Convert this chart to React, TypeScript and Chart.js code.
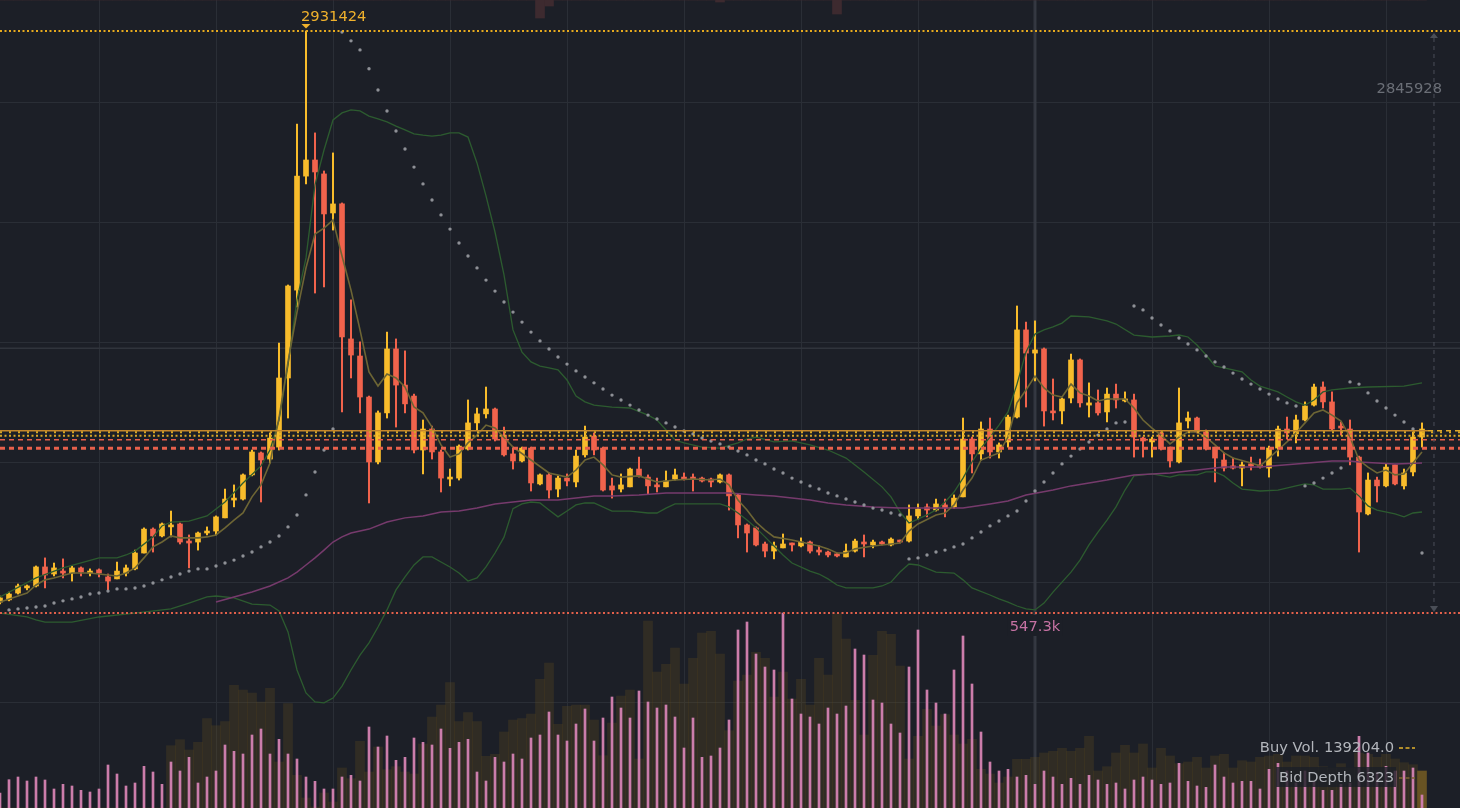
import React, { useEffect, useRef } from 'react';
import { Chart, registerables } from 'chart.js';

Chart.register(...registerables);

// ---------- price data (thousands) ----------
const openK = [
  592, 601, 629, 650, 658, 736, 707, 719, 711, 732,
  711, 724, 695, 687, 711, 728, 793, 891, 863, 900,
  912, 842, 838, 875, 883, 937, 1010, 1014, 1113, 1203,
  1178, 1227, 1510, 1870, 2337, 2403, 2346, 2186, 2223, 1670,
  1600, 1432, 1166, 1367, 1629, 1481, 1436, 1215, 1301, 1207,
  1096, 1100, 1219, 1326, 1363, 1383, 1276, 1199, 1170, 1223,
  1076, 1113, 1055, 1100, 1084, 1195, 1272, 1223, 1068, 1055,
  1064, 1137, 1104, 1068, 1064, 1096, 1104, 1104, 1100, 1096,
  1084, 1113, 1031, 908, 896, 830, 801, 814, 834, 822,
  838, 805, 797, 789, 777, 801, 838, 826, 834, 826,
  842, 842, 945, 982, 969, 990, 982, 1023, 1260, 1199,
  1301, 1207, 1248, 1350, 1707, 1612, 1629, 1375, 1375, 1428,
  1584, 1399, 1408, 1371, 1444, 1416, 1420, 1264, 1248, 1285,
  1227, 1166, 1334, 1346, 1289, 1227, 1174, 1150, 1141, 1158,
  1154, 1141, 1223, 1301, 1281, 1338, 1399, 1473, 1412, 1309,
  1301, 1186, 953, 1092, 1068, 1154, 1068, 1125, 1268,
];
const highK = [
  617, 633, 666, 662, 740, 773, 752, 769, 740, 736,
  728, 728, 707, 756, 744, 805, 896, 896, 916, 965,
  916, 867, 879, 900, 945, 1055, 1072, 1117, 1215, 1207,
  1285, 1653, 1891, 2550, 2931.424, 2514, 2358, 2432, 2227, 1830,
  1658, 1436, 1375, 1698, 1670, 1621, 1444, 1338, 1313, 1215,
  1137, 1236, 1420, 1387, 1473, 1387, 1309, 1227, 1227, 1227,
  1117, 1121, 1109, 1117, 1215, 1313, 1285, 1227, 1100, 1117,
  1141, 1186, 1113, 1100, 1129, 1137, 1121, 1117, 1104, 1100,
  1117, 1117, 1035, 912, 900, 838, 838, 871, 834, 855,
  842, 822, 801, 793, 830, 850, 867, 846, 842, 855,
  846, 990, 994, 994, 1014, 1014, 1031, 1346, 1268, 1330,
  1346, 1244, 1358, 1805, 1739, 1744, 1633, 1506, 1428, 1608,
  1588, 1490, 1461, 1469, 1485, 1453, 1444, 1268, 1268, 1289,
  1227, 1469, 1371, 1350, 1297, 1227, 1203, 1182, 1166, 1186,
  1178, 1231, 1313, 1350, 1358, 1412, 1485, 1494, 1453, 1330,
  1338, 1190, 1121, 1104, 1158, 1154, 1137, 1289, 1326,
];
const lowK = [
  584, 597, 625, 642, 654, 650, 699, 691, 678, 699,
  699, 695, 642, 687, 699, 724, 793, 797, 859, 859,
  830, 732, 805, 867, 867, 937, 982, 1010, 1109, 1002,
  1162, 1215, 1346, 1801, 2305, 1858, 1883, 2116, 1371, 1510,
  1367, 998, 1158, 1346, 1309, 1367, 1203, 1117, 1178, 1043,
  1068, 1092, 1215, 1297, 1346, 1252, 1190, 1137, 1166, 1047,
  1072, 1018, 1023, 1068, 1064, 1186, 1195, 1047, 1018, 1043,
  1064, 1104, 1035, 1043, 1064, 1092, 1092, 1047, 1084, 1064,
  1080, 969, 855, 797, 822, 777, 769, 814, 801, 818,
  793, 785, 777, 777, 777, 797, 777, 814, 826, 822,
  834, 838, 932, 941, 965, 941, 977, 1023, 1121, 1174,
  1182, 1182, 1227, 1346, 1391, 1498, 1313, 1338, 1322, 1408,
  1391, 1350, 1358, 1330, 1387, 1412, 1186, 1186, 1186, 1215,
  1145, 1162, 1305, 1285, 1215, 1084, 1129, 1137, 1068, 1133,
  1141, 1104, 1190, 1260, 1244, 1334, 1395, 1387, 1297, 1276,
  1154, 797, 949, 1002, 1064, 1072, 1055, 1109, 1227,
];
const closeK = [
  609, 625, 658, 654, 736, 703, 732, 711, 732, 715,
  719, 711, 678, 719, 732, 793, 891, 863, 912, 904,
  838, 834, 875, 883, 941, 1014, 1014, 1113, 1207, 1174,
  1264, 1510, 1887, 2337, 2403, 2354, 2182, 2223, 1678, 1604,
  1432, 1166, 1367, 1629, 1481, 1404, 1215, 1301, 1207, 1100,
  1104, 1231, 1326, 1363, 1383, 1260, 1195, 1170, 1223, 1080,
  1113, 1051, 1100, 1088, 1190, 1268, 1215, 1051, 1051, 1072,
  1137, 1109, 1068, 1064, 1088, 1113, 1096, 1096, 1088, 1084,
  1113, 1027, 908, 875, 826, 801, 822, 830, 826, 838,
  801, 797, 785, 781, 801, 842, 830, 838, 830, 850,
  838, 945, 973, 969, 994, 977, 1018, 1260, 1199, 1301,
  1207, 1236, 1350, 1707, 1612, 1625, 1375, 1367, 1424, 1584,
  1408, 1408, 1367, 1444, 1420, 1424, 1268, 1252, 1260, 1219,
  1170, 1326, 1346, 1289, 1219, 1182, 1141, 1141, 1154, 1150,
  1145, 1223, 1301, 1285, 1338, 1395, 1473, 1412, 1301, 1305,
  1186, 961, 1092, 1068, 1145, 1076, 1121, 1268, 1301,
];

// ---------- indicators: [candle index, value (thousands)] ----------
const maShort = [
  [0, 592], [3, 629], [4, 662], [5, 683], [6, 691], [8, 711], [10, 711], [12, 703], [13, 699], [14, 711],
  [15, 732], [16, 773], [17, 818], [18, 838], [19, 863], [20, 855], [22, 855], [23, 859], [24, 867], [25, 896],
  [26, 928], [27, 957], [28, 1023], [29, 1072], [30, 1162], [31, 1346], [32, 1576], [33, 1780], [34, 1961], [35, 2100],
  [36, 2124], [37, 2157], [38, 2010], [39, 1870], [40, 1707], [41, 1535], [42, 1477], [43, 1526], [44, 1510], [45, 1473],
  [46, 1391], [47, 1367], [48, 1309], [49, 1236], [50, 1186], [51, 1199], [52, 1244], [53, 1276], [54, 1317], [55, 1305],
  [57, 1227], [59, 1174], [61, 1121], [63, 1104], [64, 1133], [65, 1174], [66, 1186], [67, 1154], [68, 1113], [69, 1104],
  [71, 1109], [73, 1084], [75, 1092], [77, 1096], [79, 1092], [80, 1096], [81, 1072], [82, 1010], [83, 969], [84, 920],
  [85, 887], [86, 859], [88, 846], [89, 838], [91, 822], [92, 810], [93, 793], [94, 793], [95, 810], [97, 822],
  [100, 834], [101, 883], [102, 912], [104, 949], [105, 957], [106, 990], [107, 1051], [108, 1100], [109, 1174], [111, 1203],
  [112, 1268], [113, 1408], [114, 1461], [115, 1518], [116, 1469], [117, 1440], [118, 1432], [119, 1485], [120, 1449], [121, 1436],
  [122, 1416], [123, 1424], [125, 1424], [126, 1387], [127, 1338], [128, 1305], [129, 1276], [130, 1240], [131, 1268], [132, 1289],
  [133, 1289], [134, 1268], [135, 1236], [136, 1203], [137, 1182], [139, 1162], [140, 1150], [141, 1182], [142, 1215], [143, 1248],
  [144, 1285], [145, 1326], [146, 1367], [147, 1379], [148, 1358], [149, 1334], [150, 1268], [151, 1174], [152, 1145], [153, 1121],
  [154, 1133], [155, 1113], [156, 1117], [157, 1162], [158, 1207],
];
const bandUpper = [
  [0, 613], [4, 691], [7, 732], [11, 773], [13, 773], [14, 785], [15, 801], [17, 859], [18, 904], [19, 920],
  [21, 924], [23, 945], [25, 1002], [27, 1080], [29, 1150], [30, 1215], [31, 1338], [32, 1563], [33, 1830], [34, 2002],
  [35, 2301], [36, 2444], [37, 2567], [38, 2596], [39, 2608], [40, 2604], [41, 2583], [42, 2571], [43, 2559], [44, 2542],
  [45, 2526], [46, 2510], [47, 2505], [48, 2501], [49, 2505], [50, 2514], [51, 2514], [52, 2497], [53, 2391], [54, 2256],
  [55, 2108], [56, 1932], [57, 1707], [58, 1616], [59, 1576], [60, 1559], [61, 1551], [62, 1543], [63, 1502], [64, 1436],
  [65, 1412], [66, 1399], [68, 1391], [70, 1387], [72, 1358], [73, 1338], [74, 1297], [75, 1256], [76, 1244], [78, 1227],
  [80, 1223], [82, 1244], [83, 1260], [84, 1268], [86, 1248], [88, 1252], [90, 1236], [92, 1215], [94, 1182], [95, 1154],
  [96, 1125], [98, 1064], [99, 1023], [100, 961], [101, 916], [102, 932], [103, 949], [104, 969], [105, 1002], [106, 1043],
  [107, 1100], [108, 1166], [109, 1223], [110, 1268], [111, 1317], [112, 1371], [113, 1485], [114, 1617], [115, 1690], [116, 1707],
  [117, 1719], [118, 1735], [119, 1764], [121, 1760], [123, 1744], [124, 1731], [126, 1686], [128, 1678], [130, 1682], [131, 1686],
  [132, 1678], [133, 1645], [134, 1604], [135, 1559], [136, 1551], [138, 1535], [139, 1502], [140, 1477], [142, 1453], [143, 1432],
  [144, 1412], [145, 1399], [146, 1420], [147, 1453], [148, 1461], [150, 1469], [152, 1473], [156, 1477], [158, 1490],
];
const bandLower = [
  [0, 547], [3, 531], [4, 519], [5, 510], [8, 510], [11, 531], [15, 547], [19, 564], [21, 588], [23, 613],
  [24, 617], [26, 609], [28, 584], [30, 580], [31, 556], [32, 470], [33, 314], [34, 220], [35, 183], [36, 179],
  [37, 199], [38, 248], [39, 314], [40, 375], [41, 425], [42, 490], [43, 560], [44, 642], [45, 695], [46, 744],
  [47, 777], [48, 777], [49, 756], [50, 736], [51, 711], [52, 678], [53, 691], [54, 736], [55, 793], [56, 858],
  [57, 975], [58, 994], [59, 1002], [60, 998], [61, 969], [62, 941], [63, 965], [64, 990], [65, 998], [66, 998],
  [68, 965], [70, 965], [72, 957], [73, 957], [74, 977], [75, 994], [80, 994], [81, 982], [82, 957], [83, 928],
  [84, 896], [85, 859], [86, 822], [87, 785], [88, 752], [90, 719], [91, 707], [92, 687], [93, 662], [94, 650],
  [97, 650], [98, 658], [99, 674], [100, 715], [101, 748], [102, 744], [104, 715], [106, 711], [107, 683], [108, 650],
  [110, 621], [111, 605], [112, 592], [113, 576], [114, 564], [115, 560], [116, 588], [117, 633], [118, 674], [119, 715],
  [120, 764], [121, 826], [122, 879], [123, 928], [124, 982], [125, 1051], [126, 1109], [128, 1117], [130, 1104], [131, 1113],
  [133, 1113], [134, 1125], [135, 1125], [136, 1109], [137, 1080], [138, 1055], [140, 1047], [142, 1051], [144, 1068], [145, 1076],
  [146, 1072], [147, 1055], [149, 1055], [150, 1059], [151, 1027], [152, 986], [153, 969], [155, 953], [156, 941], [157, 957],
  [158, 961],
];
const maLong = [
  [24, 592], [26, 613], [28, 633], [30, 658], [32, 691], [33, 715], [34, 744], [35, 773], [36, 805], [37, 838],
  [38, 859], [39, 875], [41, 891], [43, 920], [45, 937], [47, 945], [49, 961], [51, 965], [53, 977], [55, 994],
  [57, 1002], [59, 1010], [62, 1010], [64, 1018], [66, 1027], [68, 1027], [71, 1031], [74, 1039], [78, 1039], [81, 1039],
  [84, 1031], [86, 1027], [88, 1018], [90, 1010], [92, 998], [94, 990], [97, 982], [100, 977], [104, 977], [107, 977],
  [110, 994], [112, 1006], [114, 1031], [117, 1051], [119, 1068], [121, 1080], [123, 1092], [126, 1113], [130, 1121], [133, 1133],
  [136, 1145], [140, 1145], [144, 1158], [148, 1170], [150, 1170], [151, 1166], [155, 1158], [158, 1162],
];
const sarK = [
  null, 560, 564, 568, 572, 576, 588, 597, 605, 613,
  625, 629, 637, 646, 646, 650, 658, 670, 683, 695,
  707, 719, 728, 728, 740, 752, 764, 781, 797, 818,
  838, 863, 900, 949, 1031, 1125, 1215, 1301, 2927, 2891,
  2854, 2777, 2690, 2604, 2522, 2448, 2374, 2305, 2239, 2178,
  2120, 2063, 2010, 1961, 1911, 1866, 1821, 1780, 1739, 1698,
  1662, 1629, 1596, 1567, 1539, 1514, 1490, 1465, 1440, 1420,
  1399, 1379, 1358, 1342, 1326, 1309, 1293, 1281, 1264, 1252,
  1240, 1227, 1211, 1195, 1174, 1158, 1137, 1121, 1100, 1084,
  1068, 1055, 1039, 1027, 1014, 1002, 990, 977, 969, 957,
  949, 769, 773, 785, 797, 805, 818, 830, 855, 879,
  904, 924, 945, 965, 1006, 1047, 1084, 1121, 1158, 1190,
  1219, 1248, 1276, 1301, 1326, 1330, 1805, 1789, 1756, 1727,
  1703, 1674, 1649, 1625, 1600, 1576, 1555, 1530, 1506, 1485,
  1465, 1444, 1424, 1408, 1395, 1068, 1080, 1100, 1121, 1141,
  1494, 1485, 1449, 1416, 1387, 1358, 1330, 1301, 793,
];

// ---------- volume (thousands) ----------
const volumeBuyK = [
  0, 0, 0, 0, 0, 0, 0, 0, 0, 0,
  0, 0, 0, 0, 0, 0, 0, 0, 0, 62.3,
  68.3, 58, 65.7, 89.3, 82.3, 86.3, 122.7, 118, 115, 106,
  119.7, 46, 104.3, 32.7, 10, 1, 15, 6, 40, 29.3,
  66.7, 36, 61, 38.3, 41.3, 36, 34, 64, 91, 103,
  125.3, 86.3, 95.3, 86.3, 51.7, 53.7, 76, 88, 89.3, 94,
  128.7, 145, 83.7, 101.7, 103, 103, 88, 52.3, 85, 112,
  118, 49, 187, 136, 143.7, 160, 124, 149.7, 175, 176.7,
  154, 77.3, 127, 133, 155.7, 149.7, 111, 136, 109, 128.7,
  103, 149.7, 133, 194.3, 169, 107.7, 73, 152.7, 176.7, 173.7,
  142, 49, 71.7, 98.7, 82, 93.3, 73, 64, 68.7, 38.7,
  34, 25, 31, 48.7, 48.7, 50.7, 55, 56.7, 59.7, 56.7,
  59.7, 71.7, 37, 41.3, 55, 62.7, 55, 64, 40, 59.7,
  52, 44.3, 46, 50.7, 40, 52, 53.7, 40, 47.3, 46,
  50.7, 52, 53.7, 46, 52, 52, 50.7, 41.3, 40, 44.3,
  40, 55, 53.7, 50.7, 53.7, 49, 45.3, 43.3, 37,
];
const volumeTradeK = [
  15, 28.3, 31, 27, 31, 28, 19, 23.7, 22, 17.7,
  16, 19, 43, 34, 22, 25, 41.7, 36, 23.7, 46,
  37, 50.7, 25, 31, 37, 63, 56.7, 54, 73, 79,
  54, 68.7, 54, 49, 31, 26.7, 19, 19, 31, 32.7,
  27, 81, 61, 72, 47.7, 50.7, 70, 65.7, 63, 79,
  59.7, 65.7, 68.7, 36, 27, 50.7, 46, 54, 49, 70,
  73, 96, 73, 67, 84, 99, 67, 90, 111, 100,
  90, 117, 106, 100, 103, 91, 60, 90, 50.7, 52,
  60, 88, 178, 186, 154, 141, 138, 195, 109, 94,
  91, 84, 100, 94, 102, 159, 153, 108, 105, 84,
  75, 141, 178, 118, 105, 94, 138, 172, 124, 76,
  46, 37, 38.7, 31, 32.7, 23.7, 37, 31, 23.7, 29.7,
  23.7, 32.7, 28, 23.7, 25, 19, 28, 31, 28, 23.7,
  25, 44.7, 26.7, 22, 20.7, 43, 31, 25, 26.7, 26.7,
  19, 38.7, 44.7, 37, 25, 37, 26.7, 17.7, 17.7, 23.7,
  25, 71.7, 55, 35.7, 41.7, 37, 37, 40, 13,
];
const sellSpikes = [
  [60, 18], [61, 6], [80, 2], [93, 14],
];

// ---------- axis / reference values ----------
const rangeHighK = 2931.424;
const rangeLowK = 547.3;
const levelK = [1294.1, 1287.5, 1273.6, 1257.2, 1222.0];
const gridXIdx = [11, 24, 37, 50, 63, 76, 89, 102, 115, 128, 141, 154];
const gridYK = [2639.35, 2147.78, 1656.21, 1164.64, 673.06, 181.49];
const crossIdx = 115;
const crossK = 1631.6;
const measureIdx = 159.33;
const measureText = '2845928';
const buyVolText = 'Buy Vol. 139204.0';
const bidDepthText = 'Bid Depth 6323';

const BG = '#1c1f27';
const UP = '#f8bc2b';
const DOWN = '#f1634c';
const FONT = '"DejaVu Sans", Verdana, sans-serif';

const overlayPlugin = {
  id: 'overlay',
  beforeDatasetsDraw(chart: any) {
    const { ctx, chartArea: a, scales } = chart;
    const xs = scales.x;
    const ys = scales.y;
    ctx.save();
    ctx.strokeStyle = '#2a2e36';
    ctx.lineWidth = 1;
    gridXIdx.forEach((g) => {
      const p = Math.round(xs.getPixelForValue(g)) + 0.5;
      ctx.beginPath(); ctx.moveTo(p, a.top); ctx.lineTo(p, a.bottom); ctx.stroke();
    });
    gridYK.forEach((g) => {
      const p = Math.round(ys.getPixelForValue(g)) + 0.5;
      ctx.beginPath(); ctx.moveTo(a.left, p); ctx.lineTo(a.right, p); ctx.stroke();
    });
    // crosshair
    ctx.strokeStyle = 'rgba(56,60,70,0.8)';
    ctx.lineWidth = 3;
    const cx = xs.getPixelForValue(crossIdx);
    ctx.beginPath(); ctx.moveTo(cx, a.top); ctx.lineTo(cx, a.bottom); ctx.stroke();
    ctx.strokeStyle = '#30343c';
    ctx.lineWidth = 1.5;
    const cy = ys.getPixelForValue(crossK);
    ctx.beginPath(); ctx.moveTo(a.left, cy); ctx.lineTo(a.right, cy); ctx.stroke();
    ctx.restore();
  },
  afterDatasetsDraw(chart: any) {
    const { ctx, chartArea: a, scales } = chart;
    const xs = scales.x;
    const ys = scales.y;
    const lastX = xs.getPixelForValue(openK.length - 1) + 6;
    ctx.save();
    const hline = (v: number, color: string, w: number, dash: number[], x0 = a.left, x1 = a.right) => {
      const p = ys.getPixelForValue(v);
      ctx.strokeStyle = color; ctx.lineWidth = w; ctx.setLineDash(dash);
      ctx.beginPath(); ctx.moveTo(x0, p); ctx.lineTo(x1, p); ctx.stroke();
    };
    // level lines
    hline(levelK[0], '#c4872c', 1.5, [], a.left, lastX);
    hline(levelK[0], '#e0a92a', 1.5, [5, 4], lastX, a.right);
    hline(levelK[1], '#d9a626', 2, [2, 7]);
    hline(levelK[2], '#d9a626', 2, [2, 2.5]);
    hline(levelK[3], '#e8604b', 1.6, [5, 4]);
    hline(levelK[4], '#e8604b', 3, [5, 4]);
    // range lines
    hline(rangeHighK, '#e6aa1e', 2, [2, 2.5]);
    hline(rangeLowK, '#e3604b', 2, [2, 2.5]);
    ctx.setLineDash([]);

    // measure line
    const mx = xs.getPixelForValue(measureIdx);
    const mTop = ys.getPixelForValue(rangeHighK) + 2;
    const mBot = ys.getPixelForValue(rangeLowK) - 1;
    ctx.strokeStyle = '#4a4e57';
    ctx.fillStyle = '#4a4e57';
    ctx.lineWidth = 1;
    ctx.setLineDash([4, 4]);
    ctx.beginPath(); ctx.moveTo(mx, mTop + 5); ctx.lineTo(mx, mBot - 6); ctx.stroke();
    ctx.setLineDash([]);
    ctx.beginPath(); ctx.moveTo(mx - 4, mTop + 5); ctx.lineTo(mx + 4, mTop + 5); ctx.lineTo(mx, mTop); ctx.closePath(); ctx.fill();
    ctx.beginPath(); ctx.moveTo(mx - 4, mBot - 6); ctx.lineTo(mx + 4, mBot - 6); ctx.lineTo(mx, mBot); ctx.closePath(); ctx.fill();

    ctx.font = `14.7px ${FONT}`;
    ctx.textBaseline = 'alphabetic';
    // max label
    let maxI = 0;
    highK.forEach((h, i) => { if (h > highK[maxI]) maxI = i; });
    const hx = xs.getPixelForValue(maxI);
    const hy = ys.getPixelForValue(highK[maxI]);
    ctx.fillStyle = '#f0b12c';
    ctx.textAlign = 'left';
    ctx.fillText(String(Math.round(highK[maxI] * 1000)), hx - 5, hy - 10);
    ctx.beginPath(); ctx.moveTo(hx - 4.5, hy - 7); ctx.lineTo(hx + 4.5, hy - 7); ctx.lineTo(hx, hy - 2.5); ctx.closePath(); ctx.fill();

    // low label at crosshair
    const lx = xs.getPixelForValue(crossIdx);
    const ly = ys.getPixelForValue(rangeLowK);
    const lowText = `${rangeLowK}k`;
    ctx.textAlign = 'center';
    const lw = ctx.measureText(lowText).width;
    ctx.fillStyle = BG;
    ctx.fillRect(lx - lw / 2 - 2, ly + 2, lw + 4, 21);
    ctx.fillStyle = '#c672a3';
    ctx.fillText(lowText, lx, ly + 18);

    // measure value
    ctx.textAlign = 'right';
    ctx.fillStyle = '#6b6f77';
    ctx.fillText(measureText, mx + 8, 93);

    // legend labels
    ctx.fillStyle = '#b3b6bc';
    ctx.fillText(buyVolText, 1394, 752);
    const bw = ctx.measureText(bidDepthText).width;
    ctx.fillStyle = 'rgba(28,31,39,0.8)';
    ctx.fillRect(1394 - bw - 3, 767, bw + 5, 20);
    ctx.fillStyle = '#b3b6bc';
    ctx.fillText(bidDepthText, 1394, 782);
    ctx.lineWidth = 1.5;
    ctx.setLineDash([4, 2.5]);
    ctx.strokeStyle = '#e2b12c';
    ctx.beginPath(); ctx.moveTo(1399, 748); ctx.lineTo(1415, 748); ctx.stroke();
    ctx.strokeStyle = '#7d6331';
    ctx.beginPath(); ctx.moveTo(1399, 778); ctx.lineTo(1415, 778); ctx.stroke();
    ctx.restore();
  },
};

export default function App() {
  const ref = useRef<HTMLCanvasElement | null>(null);

  useEffect(() => {
    const canvas = ref.current;
    if (!canvas) return;
    const n = openK.length;
    const isUp = (i: number) => closeK[i] >= openK[i];
    const candleColors = openK.map((_, i) => (isUp(i) ? UP : DOWN));
    const pts = (arr: number[][]) => arr.map(([x, y]) => ({ x, y }));
    const sellMap: Record<number, number> = {};
    sellSpikes.forEach(([i, v]) => { sellMap[i] = v; });

    const chart = new Chart(canvas, {
      type: 'bar',
      data: {
        datasets: [
          {
            type: 'bar',
            label: 'buyVol',
            yAxisID: 'v',
            data: volumeBuyK.map((v, i) => ({ x: i, y: v })),
            backgroundColor: volumeBuyK.map((_, i) => (i === n - 1 ? 'rgba(118,92,34,0.85)' : 'rgba(100,80,30,0.28)')),
            barThickness: 9,
            maxBarThickness: 9,
            grouped: false,
            order: 20,
          },
          {
            type: 'bar',
            label: 'tradeVol',
            yAxisID: 'v',
            data: volumeTradeK.map((v, i) => ({ x: i, y: v })),
            backgroundColor: '#cc7dab',
            barThickness: 2,
            maxBarThickness: 2,
            grouped: false,
            order: 19,
          },
          {
            type: 'bar',
            label: 'sell',
            yAxisID: 'vt',
            data: openK.map((_, i) => ({ x: i, y: sellMap[i] || 0 })),
            backgroundColor: '#3d2a2f',
            barThickness: 9,
            maxBarThickness: 9,
            grouped: false,
            order: 19,
          },
          {
            type: 'bar',
            label: 'wick',
            yAxisID: 'y',
            data: openK.map((_, i) => ({ x: i, y: [lowK[i], highK[i]] })),
            backgroundColor: candleColors,
            barThickness: 1.4,
            maxBarThickness: 1.4,
            grouped: false,
            order: 10,
          },
          {
            type: 'bar',
            label: 'body',
            yAxisID: 'y',
            data: openK.map((o, i) => ({ x: i, y: [o, closeK[i]] })),
            backgroundColor: candleColors,
            barThickness: 5,
            maxBarThickness: 5,
            minBarLength: 2,
            grouped: false,
            order: 9,
          },
          {
            type: 'line',
            label: 'bbUpper',
            yAxisID: 'y',
            data: pts(bandUpper),
            borderColor: '#2c5b2f',
            borderWidth: 1.3,
            pointRadius: 0,
            order: 6,
          },
          {
            type: 'line',
            label: 'bbLower',
            yAxisID: 'y',
            data: pts(bandLower),
            borderColor: '#2c5b2f',
            borderWidth: 1.3,
            pointRadius: 0,
            order: 6,
          },
          {
            type: 'line',
            label: 'maLong',
            yAxisID: 'y',
            data: pts(maLong),
            borderColor: '#763a6c',
            borderWidth: 1.5,
            pointRadius: 0,
            order: 5,
          },
          {
            type: 'line',
            label: 'maShort',
            yAxisID: 'y',
            data: pts(maShort),
            borderColor: '#6d6534',
            borderWidth: 1.6,
            pointRadius: 0,
            order: 4,
          },
          {
            type: 'line',
            label: 'sar',
            yAxisID: 'y',
            data: sarK.map((v, i) => ({ x: i, y: v })).filter((p) => p.y !== null),
            showLine: false,
            pointRadius: 1.7,
            pointBorderWidth: 0,
            pointBackgroundColor: '#8e9096',
            order: 3,
          },
        ],
      } as any,
      options: {
        responsive: false,
        maintainAspectRatio: false,
        devicePixelRatio: 1,
        animation: false,
        events: [],
        layout: { padding: 0, autoPadding: false },
        plugins: { legend: { display: false }, tooltip: { enabled: false } },
        scales: {
          x: { type: 'linear', min: 0, max: 1460 / 9, offset: false, display: false },
          y: { type: 'linear', min: -251.504, max: 3058.414, display: false },
          v: { type: 'linear', min: 0, max: 808, display: false },
          vt: { type: 'linear', min: 0, max: 808, reverse: true, display: false },
        },
      } as any,
      plugins: [overlayPlugin],
    });
    return () => chart.destroy();
  }, []);

  return (
    <div style={{ position: 'fixed', left: 0, top: 0, width: 1460, height: 808, background: BG, overflow: 'hidden' }}>
      <canvas ref={ref} width={1460} height={808} style={{ display: 'block', width: 1460, height: 808, background: BG }} />
    </div>
  );
}
